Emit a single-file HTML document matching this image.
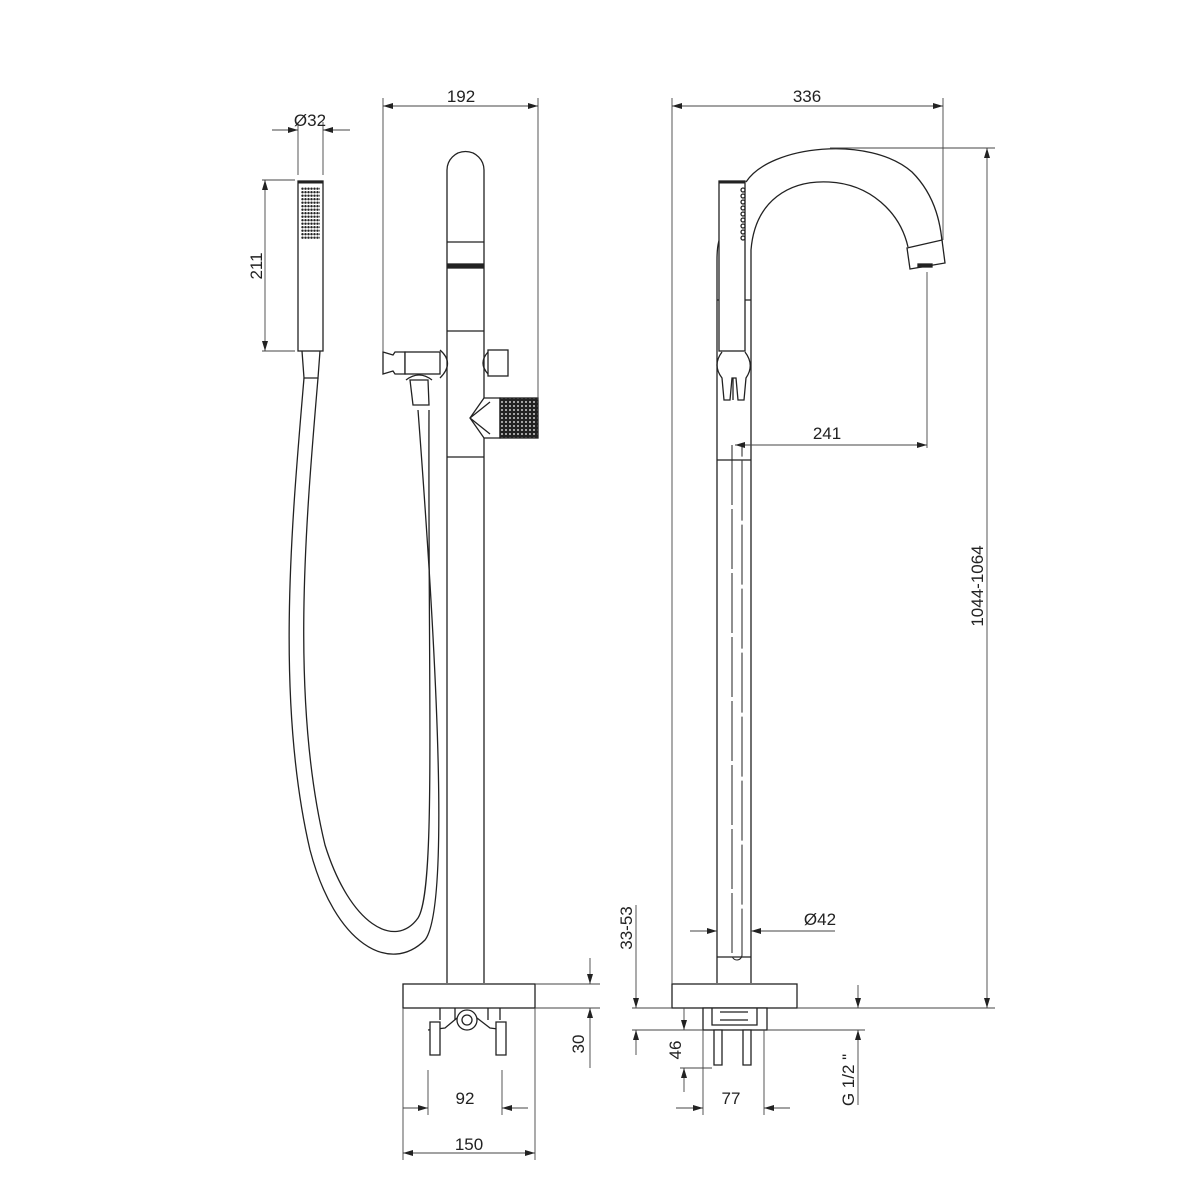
<!DOCTYPE html>
<html><head><style>body{margin:0;background:#fff}svg{display:block}text{font-family:"Liberation Sans Narrow","Liberation Sans",sans-serif;font-size:17px;fill:#222}</style></head><body>
<svg width="1200" height="1200" viewBox="0 0 1200 1200" xmlns="http://www.w3.org/2000/svg">
<defs>
<marker id="a" viewBox="0 0 10 6" refX="10" refY="3" markerWidth="10" markerHeight="6" orient="auto-start-reverse" markerUnits="userSpaceOnUse"><path d="M0,0L10,3L0,6z" fill="#222"/></marker>
<pattern id="dots" width="4" height="4" patternUnits="userSpaceOnUse"><rect width="4" height="4" fill="#222"/><circle cx="2" cy="2" r="0.9" fill="#fff"/></pattern>
<pattern id="hd" x="301" y="187" width="3" height="3.5" patternUnits="userSpaceOnUse"><circle cx="1.5" cy="1.7" r="1.2" fill="#222"/></pattern>
</defs>
<g stroke="#222" stroke-width="1.3" fill="none">
<!-- hand shower left -->
<rect x="298" y="181" width="25" height="170" fill="#fff"/>
<line x1="298" y1="182" x2="323" y2="182" stroke-width="3"/>
<rect x="301" y="187" width="19" height="52" fill="url(#hd)" stroke="none"/>
<path d="M302,351 L304,378 L318,378 L320,351"/>
<!-- hose -->
<path d="M304,378 C292,520 275,700 310,850 C335,945 390,975 425,940 C448,910 440,700 418,410"/>
<path d="M318,378 C306,520 290,700 325,845 C350,925 395,950 418,918 C436,890 428,700 429,410"/>
<!-- left faucet column -->
<path d="M447,983 L447,170 A18.5,18.5 0 0 1 484,170 L484,983"/>
<line x1="447" y1="242" x2="484" y2="242"/>
<rect x="448" y="264" width="35" height="4" fill="#222"/>
<line x1="447" y1="331" x2="484" y2="331"/>
<line x1="447" y1="457" x2="484" y2="457"/>
<!-- holder -->
<path d="M383,352 L393,355 L395,352 L405,352 L405,374 L395,374 L393,371 L383,374 Z" fill="#fff"/>
<rect x="405" y="352" width="35" height="22" fill="#fff"/>
<path d="M440,350 Q455,363 440,378"/>
<path d="M410,380 L428,380 L429,405 L413,405 Z" fill="#fff"/>
<path d="M406,380 Q419,370 432,380"/>
<!-- right knob -->
<path d="M488,352 Q478,363 488,374"/>
<rect x="488" y="350" width="20" height="26" fill="#fff"/>
<!-- lever -->
<path d="M484,398 L470,418 L484,438 L500,438 L500,398 Z" fill="#fff"/>
<path d="M470,418 L490,402 M470,418 L490,434"/>
<rect x="500" y="398" width="38" height="40" fill="url(#dots)"/>
<!-- base left -->
<rect x="403" y="984" width="132" height="24" fill="#fff"/>
<path d="M440,1008 L440,1020 M455,1008 L455,1020 M488,1008 L488,1020 M500,1008 L500,1020"/>
<circle cx="467" cy="1020" r="10"/><circle cx="467" cy="1020" r="5"/>
<path d="M428,1030 L445,1028 L457,1018 M506,1030 L490,1028 L477,1018"/>
<path d="M430,1022 L440,1022 L440,1055 L430,1055 Z M496,1022 L506,1022 L506,1055 L496,1055 Z" fill="#fff"/>
<!-- right faucet column -->
<path d="M717,983 L717,260 Q717,240 722,235"/>
<path d="M751,983 L751,250"/>
<line x1="717" y1="300" x2="751" y2="300"/>
<rect x="719" y="181" width="26" height="170" fill="#fff"/>
<line x1="719" y1="182" x2="745" y2="182" stroke-width="3"/>
<g fill="#fff"><circle cx="743" cy="190" r="2"/><circle cx="743" cy="196" r="2"/><circle cx="743" cy="202" r="2"/><circle cx="743" cy="208" r="2"/><circle cx="743" cy="214" r="2"/><circle cx="743" cy="220" r="2"/><circle cx="743" cy="226" r="2"/><circle cx="743" cy="232" r="2"/><circle cx="743" cy="238" r="2"/></g>
<path d="M722,352 Q712,365 722,378 L724,400 L730,400 L732,378 L736,378 L738,400 L744,400 L746,378 Q755,365 745,352"/>
<path d="M733,378 L733,400"/>
<line x1="717" y1="460" x2="751" y2="460"/>
<line x1="717" y1="957" x2="751" y2="957"/>
<!-- spout -->
<path d="M746,182 C770,145 870,135 912,172 C935,195 943,225 943,262"/>
<path d="M751,250 C755,200 790,180 829,182 C870,184 900,212 908,247"/>
<path d="M907,248 L942,240 L945,263 L910,269 Z" fill="#fff"/>
<rect x="918" y="264" width="14" height="3" fill="#222"/>
<!-- inner slot -->
<path d="M732,445 L732,955 A5,5 0 0 0 742,955 L742,445" stroke-dasharray="60,4" stroke-width="1"/>
<!-- base right -->
<rect x="672" y="984" width="125" height="24" fill="#fff"/>
<rect x="703" y="1008" width="64" height="22" fill="#fff"/>
<path d="M712,1008 L712,1025 L757,1025 L757,1008 M720,1012 L748,1012 M720,1020 L748,1020"/>
<path d="M714,1030 L722,1030 L722,1065 L714,1065 Z M743,1030 L751,1030 L751,1065 L743,1065 Z" fill="#fff"/>
</g>
<!-- dimension lines -->
<g stroke="#444" stroke-width="0.9" fill="none">
<line x1="298" y1="175" x2="298" y2="122"/><line x1="323" y1="175" x2="323" y2="122"/>
<line x1="272" y1="130" x2="298" y2="130" marker-end="url(#a)"/><line x1="350" y1="130" x2="323" y2="130" marker-end="url(#a)"/>
<line x1="262" y1="180" x2="295" y2="180"/><line x1="262" y1="351" x2="295" y2="351"/>
<line x1="265" y1="180" x2="265" y2="351" marker-start="url(#a)" marker-end="url(#a)"/>
<line x1="383" y1="98" x2="383" y2="352"/><line x1="538" y1="98" x2="538" y2="400"/>
<line x1="383" y1="106" x2="538" y2="106" marker-start="url(#a)" marker-end="url(#a)"/>
<line x1="672" y1="98" x2="672" y2="984"/><line x1="943" y1="98" x2="943" y2="240"/>
<line x1="672" y1="106" x2="943" y2="106" marker-start="url(#a)" marker-end="url(#a)"/>
<line x1="830" y1="148" x2="995" y2="148"/><line x1="797" y1="1008" x2="995" y2="1008"/>
<line x1="987" y1="148" x2="987" y2="1008" marker-start="url(#a)" marker-end="url(#a)"/>
<line x1="927" y1="272" x2="927" y2="448"/>
<line x1="735" y1="445" x2="927" y2="445" marker-start="url(#a)" marker-end="url(#a)"/>
<line x1="690" y1="931" x2="717" y2="931" marker-end="url(#a)"/><line x1="835" y1="931" x2="751" y2="931" marker-end="url(#a)"/>
<line x1="535" y1="984" x2="600" y2="984"/><line x1="535" y1="1008" x2="600" y2="1008"/>
<line x1="590" y1="958" x2="590" y2="984" marker-end="url(#a)"/><line x1="590" y1="1068" x2="590" y2="1008" marker-end="url(#a)"/>
<line x1="403" y1="1008" x2="403" y2="1160"/><line x1="535" y1="1008" x2="535" y2="1160"/>
<line x1="428" y1="1070" x2="428" y2="1115"/><line x1="502" y1="1070" x2="502" y2="1115"/>
<line x1="403" y1="1108" x2="428" y2="1108" marker-end="url(#a)"/><line x1="528" y1="1108" x2="502" y2="1108" marker-end="url(#a)"/>
<line x1="403" y1="1153" x2="535" y2="1153" marker-start="url(#a)" marker-end="url(#a)"/>
<line x1="636" y1="905" x2="636" y2="1008" marker-end="url(#a)"/><line x1="636" y1="1055" x2="636" y2="1030" marker-end="url(#a)"/>
<line x1="632" y1="1008" x2="672" y2="1008"/><line x1="632" y1="1030" x2="703" y2="1030"/>
<line x1="684" y1="1008" x2="684" y2="1030" marker-end="url(#a)"/><line x1="684" y1="1092" x2="684" y2="1068" marker-end="url(#a)"/>
<line x1="680" y1="1068" x2="712" y2="1068"/>
<line x1="703" y1="1030" x2="703" y2="1115"/><line x1="764" y1="1030" x2="764" y2="1115"/>
<line x1="676" y1="1108" x2="703" y2="1108" marker-end="url(#a)"/><line x1="790" y1="1108" x2="764" y2="1108" marker-end="url(#a)"/>
<line x1="767" y1="1030" x2="865" y2="1030"/>
<line x1="858" y1="985" x2="858" y2="1008" marker-end="url(#a)"/><line x1="858" y1="1105" x2="858" y2="1030" marker-end="url(#a)"/>
</g>
<text x="310" y="126" text-anchor="middle">Ø32</text>
<text x="461" y="102" text-anchor="middle">192</text>
<text x="807" y="102" text-anchor="middle">336</text>
<text x="827" y="439" text-anchor="middle">241</text>
<text x="820" y="925" text-anchor="middle">Ø42</text>
<text x="465" y="1104" text-anchor="middle">92</text>
<text x="469" y="1150" text-anchor="middle">150</text>
<text x="731" y="1104" text-anchor="middle">77</text>
<text transform="translate(262,266) rotate(-90)" text-anchor="middle">211</text>
<text transform="translate(983,586) rotate(-90)" text-anchor="middle">1044-1064</text>
<text transform="translate(584,1044) rotate(-90)" text-anchor="middle">30</text>
<text transform="translate(632,928) rotate(-90)" text-anchor="middle">33-53</text>
<text transform="translate(681,1050) rotate(-90)" text-anchor="middle">46</text>
<text transform="translate(854,1080) rotate(-90)" text-anchor="middle">G 1/2 "</text>
</svg>
</body></html>
